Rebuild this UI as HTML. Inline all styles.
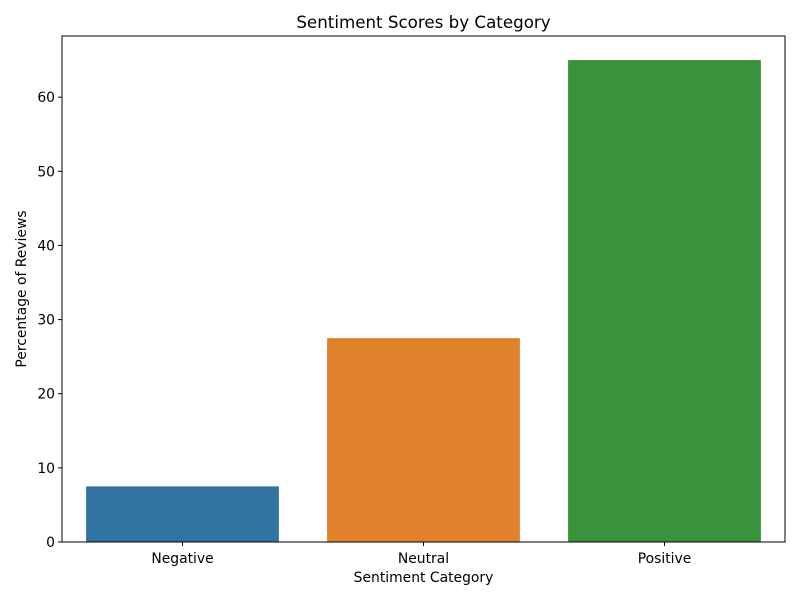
<!DOCTYPE html>
<html><head><meta charset="utf-8"><style>
body{margin:0;background:#fff;}
svg text{font-family:"DejaVu Sans","Liberation Sans",sans-serif;fill:#000;}
</style></head><body>
<svg id="chart" width="800" height="600" xmlns="http://www.w3.org/2000/svg">
<rect width="800" height="600" fill="#fff"/>
<text x="423.5" y="28" font-size="16.7" text-anchor="middle">Sentiment Scores by Category</text>
<g id="bars"></g>
<g id="yticks"></g>
<g id="xticks"></g>
<rect x="62" y="36" width="723" height="506" fill="none" stroke="#000" stroke-width="1"/>
<text x="423.5" y="582" font-size="13.9" text-anchor="middle">Sentiment Category</text>
<text transform="translate(26,289) rotate(-90)" font-size="13.9" text-anchor="middle">Percentage of Reviews</text>
</svg>
<script>
const categories = ["Negative","Neutral","Positive"];
const values = [7.5, 27.5, 65.0];
const colors = ["#3274a1","#e1812c","#3a923a"];
const yTicks = [0,10,20,30,40,50,60];
const L=62,R=785,T=36,B=542,yMax=68.25;
const ns="http://www.w3.org/2000/svg";
const y=v=>B-(v/yMax)*(B-T);
const step=(R-L)/categories.length;
const x=i=>L+step*(i+0.5);
const bw=step*0.8;
const bars=document.getElementById('bars'), yt=document.getElementById('yticks'), xt=document.getElementById('xticks');
categories.forEach((c,i)=>{
  const r=document.createElementNS(ns,'rect');
  r.setAttribute('x',x(i)-bw/2);r.setAttribute('y',y(values[i]));
  r.setAttribute('width',bw);r.setAttribute('height',B-y(values[i]));
  r.setAttribute('fill',colors[i]);
  
  
  bars.appendChild(r);
  const l=document.createElementNS(ns,'line');
  l.setAttribute('x1',x(i));l.setAttribute('x2',x(i));l.setAttribute('y1',B);l.setAttribute('y2',B+4);l.setAttribute('stroke','#000');
  
  
  xt.appendChild(l);
  const t=document.createElementNS(ns,'text');
  t.setAttribute('x',x(i));t.setAttribute('y',B+21);t.setAttribute('font-size','13.9');t.setAttribute('text-anchor','middle');
  t.textContent=c;
  
  
  xt.appendChild(t);
});
yTicks.forEach(v=>{
  const l=document.createElementNS(ns,'line');
  l.setAttribute('x1',L-4);l.setAttribute('x2',L);l.setAttribute('y1',y(v));l.setAttribute('y2',y(v));l.setAttribute('stroke','#000');
  
  
  yt.appendChild(l);
  const t=document.createElementNS(ns,'text');
  t.setAttribute('x',L-7);t.setAttribute('y',y(v)+5);t.setAttribute('font-size','13.9');t.setAttribute('text-anchor','end');
  t.textContent=v;
  
  
  yt.appendChild(t);
});
</script>
</body></html>
